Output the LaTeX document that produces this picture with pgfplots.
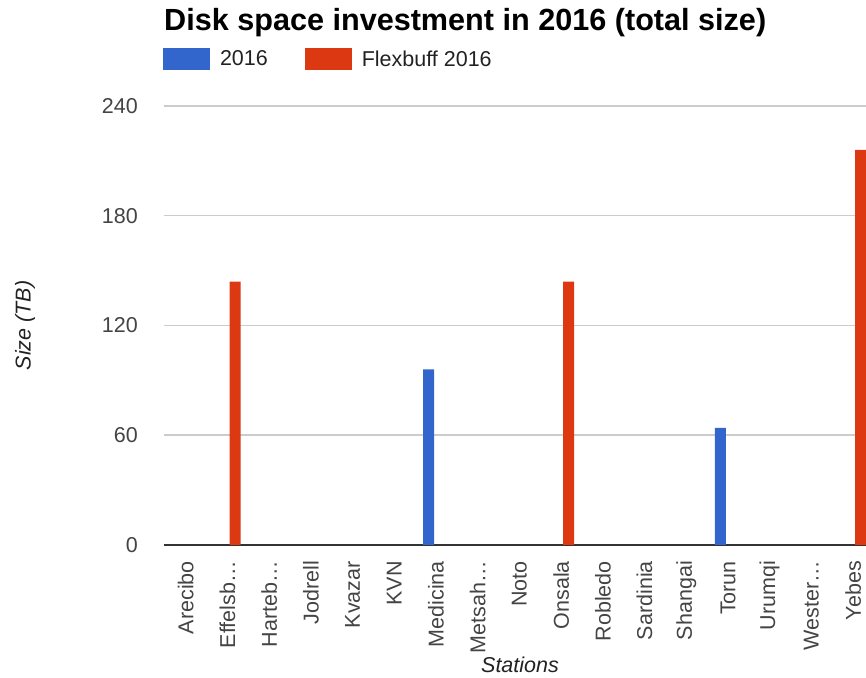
\documentclass[border=0pt]{standalone}
\usepackage{fontspec}
\setmainfont{Liberation Sans}
\usepackage{pgfplots}
\pgfplotsset{compat=1.18}
\definecolor{gblue}{HTML}{3366CC}
\definecolor{gred}{HTML}{DC3912}
\definecolor{ticktxt}{HTML}{444444}
\definecolor{legtxt}{HTML}{222222}
\definecolor{gridc}{HTML}{CCCCCC}
\definecolor{basec}{HTML}{333333}
\newcommand{\fs}{\fontsize{21.5bp}{25bp}\selectfont}

\begin{document}
\begin{tikzpicture}
\useasboundingbox (0,0) rectangle (866bp,678bp);
\begin{axis}[
  at={(164bp,133bp)}, anchor=south west,
  scale only axis, width=712bp, height=439bp,
  xmin=-0.523, xmax=16.55, ymin=0, ymax=240,
  ybar=4bp, bar width=11bp,
  axis line style={draw=none},
  major tick length=0pt,
  ytick={0,60,120,180,240},
  ymajorgrids, grid style={draw=gridc, line width=1.5bp},
  extra y ticks={0}, extra y tick labels={},
  extra y tick style={grid style={draw=basec, line width=1.8bp}},
  xtick={0,...,16},
  xticklabels={Arecibo, Effelsb…, Harteb…, Jodrell, Kvazar, KVN, Medicina, Metsah…, Noto, Onsala, Robledo, Sardinia, Shangai, Torun, Urumqi, Wester…, Yebes},
  /pgf/number format/assume math mode=true,
  yticklabel style={anchor=east, inner sep=0pt, font=\fs, text=ticktxt},
  yticklabel shift=26bp,
  xticklabel style={rotate=90, anchor=east, inner sep=0pt, font=\fs, text=ticktxt},
  xticklabel shift=16bp,
  title={Disk space investment in 2016 (total size)},
  title style={at={(axis description cs:0,1.158)}, anchor=base west, inner sep=0pt,
    font=\fontsize{30.6bp}{34bp}\selectfont\bfseries, text=black},
  xlabel={Stations},
  xlabel style={at={(axis description cs:0.5,-0.2733)}, anchor=center, inner sep=0pt,
    font=\fs\itshape, text=legtxt},
  ylabel={Size (TB)},
  ylabel style={at={(axis description cs:-0.1952,0.5)}, anchor=center, inner sep=0pt,
    font=\fs\itshape, text=legtxt},
  legend columns=2,
  legend image code/.code={\fill[#1,/tikz/.cd,draw=none] (0bp,-11bp) rectangle (47bp,11bp);},
  legend style={at={(axis description cs:-0.0014,1.132)}, anchor=north west,
    draw=none, fill=none, inner sep=0pt, outer sep=0pt,
    nodes={inner sep=0pt, font=\fs, text=legtxt},
    /tikz/every odd column/.append style={column sep=10bp},
    /tikz/every even column/.append style={column sep=37bp}},
  legend cell align=left,
]
\addplot[fill=gblue, draw=none] coordinates {
  (0,0) (1,0) (2,0) (3,0) (4,0) (5,0) (6,96) (7,0) (8,0)
  (9,0) (10,0) (11,0) (12,0) (13,64) (14,0) (15,0) (16,0)};
\addplot[fill=gred, draw=none] coordinates {
  (0,0) (1,144) (2,0) (3,0) (4,0) (5,0) (6,0) (7,0) (8,0)
  (9,144) (10,0) (11,0) (12,0) (13,0) (14,0) (15,0) (16,216)};
\legend{2016, Flexbuff 2016}
\end{axis}
\end{tikzpicture}
\end{document}
